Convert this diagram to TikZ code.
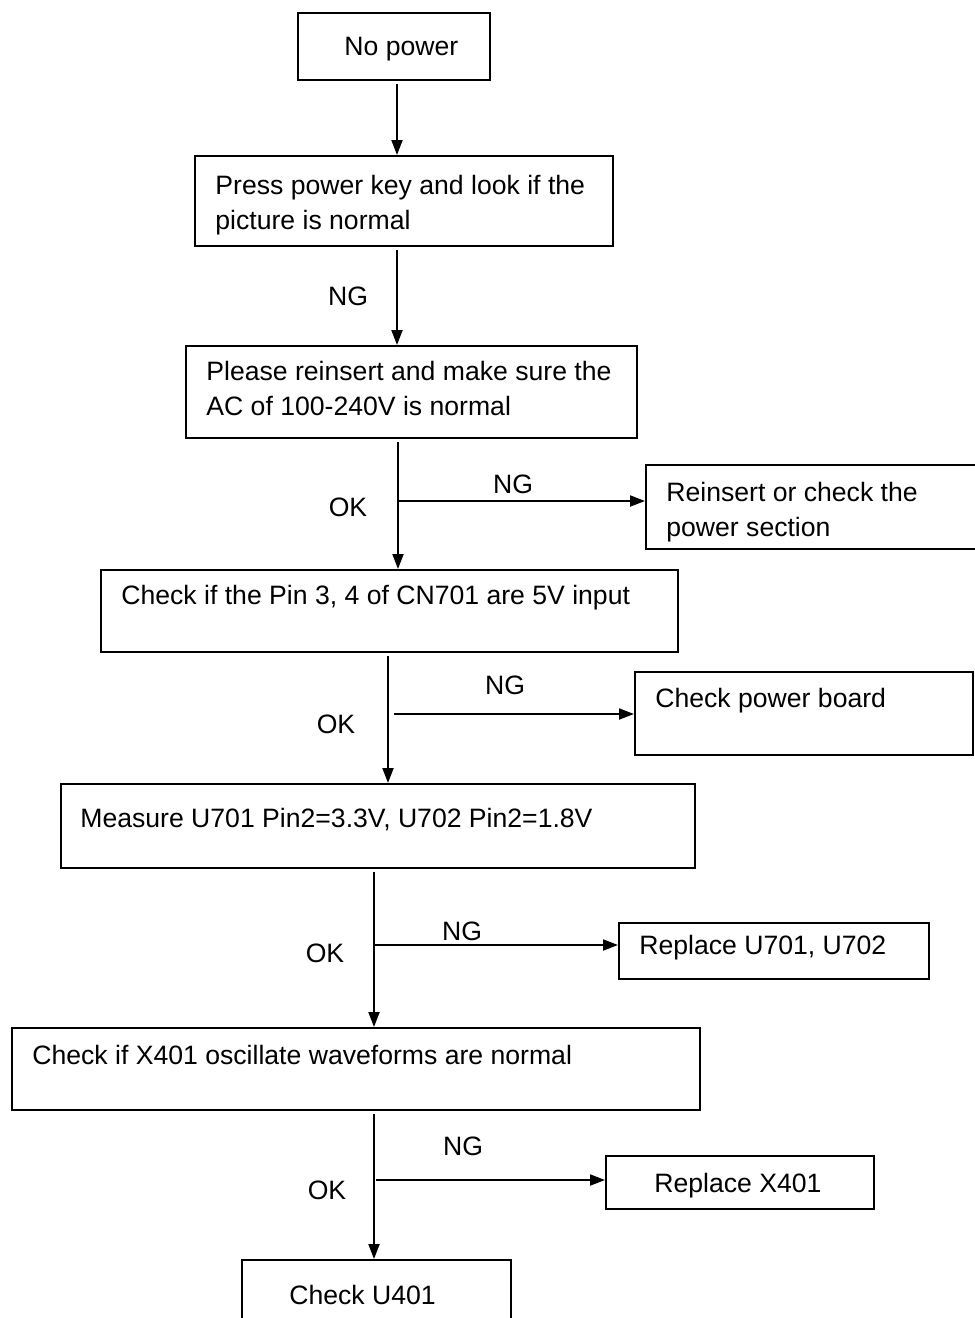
\documentclass[tikz,border=0pt]{standalone}
\usepackage{fontspec}
\setmainfont{Liberation Sans}
\usetikzlibrary{arrows.meta}
\begin{document}
\begin{tikzpicture}[x=0.5pt,y=-0.5pt,
  box/.style={draw,line width=1pt,inner sep=0pt,anchor=north west},
  txt/.style={inner sep=0pt,anchor=north west,align=left,font=\fontsize{13.3}{17.5}\selectfont},
  lbl/.style={inner sep=0pt,font=\fontsize{13.3}{15}\selectfont},
  arr/.style={line width=1pt,-{Triangle[length=7.5pt,width=5.5pt]}},
  sh/.style={shorten <=1.5pt}]
\clip (0,0) rectangle (975,1318);
\fill[white] (0,0) rectangle (975,1318);
% boxes
\node[box,minimum width=96pt,minimum height=33.5pt] (b1) at (297,12) {};
\node[box,minimum width=209pt,minimum height=45pt] (b2) at (194,155) {};
\node[box,minimum width=225.5pt,minimum height=46pt] (b3) at (185,345) {};
\node[box,minimum width=180pt,minimum height=42pt] (b4) at (645,464) {};
\node[box,minimum width=288.5pt,minimum height=41pt] (b5) at (100,569) {};
\node[box,minimum width=169pt,minimum height=41.5pt] (b6) at (634,671) {};
\node[box,minimum width=317pt,minimum height=42pt] (b7) at (60,783) {};
\node[box,minimum width=155pt,minimum height=28pt] (b8) at (618,922) {};
\node[box,minimum width=344pt,minimum height=41pt] (b9) at (11,1027) {};
\node[box,minimum width=134pt,minimum height=26.5pt] (b10) at (605,1155) {};
\node[box,minimum width=134.5pt,minimum height=40pt] (b11) at (241,1259) {};
% texts
\node[txt] (t1) at (344,37) {No power};
\node[txt] (t2) at (215,175) {Press power key and look if the\\picture is normal};
\node[txt] (t3) at (206,361) {Please reinsert and make sure the\\AC of 100-240V is normal};
\node[txt] (t4) at (666,482) {Reinsert or check the\\power section};
\node[txt] (t5) at (121,585) {Check if the Pin 3, 4 of CN701 are 5V input};
\node[txt] (t6) at (655,688) {Check power board};
\node[txt] (t7) at (80,808) {Measure U701 Pin2=3.3V, U702 Pin2=1.8V};
\node[txt] (t8) at (639,935) {Replace U701, U702};
\node[txt] (t9) at (32,1045) {Check if X401 oscillate waveforms are normal};
\node[txt] (t10) at (654,1173) {Replace X401};
\node[txt] (t11) at (289,1285) {Check U401};
% connector coordinates
\coordinate (c1) at (397,0);
\coordinate (c2) at (397,0);
\coordinate (c3) at (398,0);
\coordinate (c4) at (388,0);
\coordinate (c5) at (374,0);
\coordinate (c6) at (374,0);
\coordinate (j3) at (398,501);
\coordinate (j4) at (394,714);
\coordinate (j5) at (374,945);
\coordinate (j6) at (376,1180);
% vertical arrows
\draw[arr,sh] (b1.south -| c1) -- (b2.north -| c1);
\draw[arr,sh] (b2.south -| c2) -- (b3.north -| c2);
\draw[arr,sh] (b3.south -| c3) -- (b5.north -| c3);
\draw[arr,sh] (b5.south -| c4) -- (b7.north -| c4);
\draw[arr,sh] (b7.south -| c5) -- (b9.north -| c5);
\draw[arr,sh] (b9.south -| c6) -- (b11.north -| c6);
% branch arrows
\draw[arr] (j3) -- (j3 -| b4.west);
\draw[arr] (j4) -- (j4 -| b6.west);
\draw[arr] (j5) -- (j5 -| b8.west);
\draw[arr] (j6) -- (j6 -| b10.west);
% labels
\node[lbl] (n1) at (348,296) {NG};
\node[lbl] (n2) at (513,484) {NG};
\node[lbl] (o2) at (348,507) {OK};
\node[lbl] (n3) at (505,685) {NG};
\node[lbl] (o3) at (336,724) {OK};
\node[lbl] (n4) at (462,931) {NG};
\node[lbl] (o4) at (325,953) {OK};
\node[lbl] (n5) at (463,1146) {NG};
\node[lbl] (o5) at (327,1190) {OK};
\end{tikzpicture}
\end{document}
